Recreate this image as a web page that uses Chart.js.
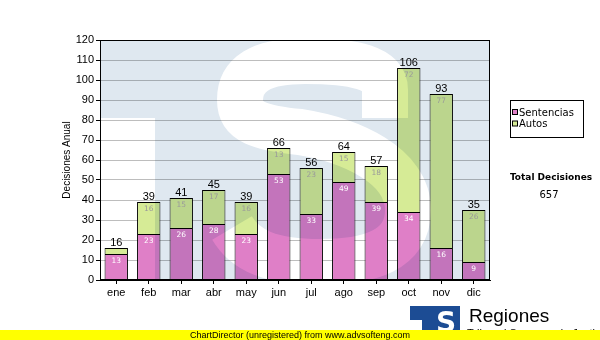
<!DOCTYPE html>
<html>
<head>
<meta charset="utf-8">
<script src="https://cdn.jsdelivr.net/npm/chart.js@4.4.0/dist/chart.umd.min.js"></script>
<style>
  html, body { margin: 0; padding: 0; background: #fff; }
  #wrap { width: 600px; height: 340px; position: relative; }
</style>
</head>
<body>
<div id="wrap"><canvas id="chart" width="600" height="340"></canvas></div>
<script>
// decisiones por mes
const months = ['ene', 'feb', 'mar', 'abr', 'may', 'jun', 'jul', 'ago', 'sep', 'oct', 'nov', 'dic'];
const sentencias = [13, 23, 26, 28, 23, 53, 33, 49, 39, 34, 16, 9];
const autos = [3, 16, 15, 17, 16, 13, 23, 15, 18, 72, 77, 26];
const seriesNames = ['Sentencias', 'Autos'];
const seriesColors = ['#df7fc7', '#d6eb96'];

const ARIAL = '"Liberation Sans", Arial, sans-serif';
const SANS = '"DejaVu Sans", Verdana, sans-serif';
const LOGO_BLUE = '#dfe8f0';

// logo de fondo (T + S) en un canvas aparte; luego se mezcla con multiply
function buildWatermark(a) {
    const c = document.createElement('canvas');
    c.width = 600;
    c.height = 340;
    const g = c.getContext('2d');
    g.fillStyle = '#fff';
    g.fillRect(0, 0, 600, 340);
    g.fillStyle = LOGO_BLUE;
    g.fillRect(a.left, a.top, a.right - a.left, a.bottom - a.top);
    g.fillStyle = '#fff';
    g.fillRect(a.left, 118, 55, a.bottom - 118);

    // la S
    g.strokeStyle = '#fff';
    g.lineWidth = 46;
    g.lineCap = 'butt';
    g.lineJoin = 'round';
    g.beginPath();
    g.moveTo(385, 118);
    g.lineTo(385, 90);
    g.bezierCurveTo(385, 68, 355, 61, 305, 61);
    g.bezierCurveTo(260, 61, 240, 75, 240, 100);
    g.bezierCurveTo(240, 122, 260, 128, 300, 132);
    g.bezierCurveTo(350, 140, 408, 165, 408, 210);
    g.bezierCurveTo(408, 250, 370, 262, 320, 262);
    g.bezierCurveTo(270, 262, 245, 250, 232, 228);
    g.stroke();
    return c;
}

const overlay = {
    id: 'overlay',
    afterDatasetsDraw(chart) {
        const ctx = chart.ctx;
        const a = chart.chartArea;

        ctx.save();
        ctx.beginPath();
        ctx.rect(a.left, a.top, a.right - a.left, a.bottom - a.top);
        ctx.clip();
        ctx.globalCompositeOperation = 'multiply';
        ctx.drawImage(buildWatermark(a), 0, 0);
        ctx.restore();

        const m0 = chart.getDatasetMeta(0);
        const m1 = chart.getDatasetMeta(1);

        ctx.save();
        // valores dentro de cada tramo
        ctx.font = '7.5px ' + SANS;
        ctx.textAlign = 'center';
        ctx.textBaseline = 'middle';
        [[m0, sentencias, '#ffffff'], [m1, autos, '#9a9a9a']].forEach(([meta, vals, col]) => {
            ctx.fillStyle = col;
            meta.data.forEach((bar, i) => {
                if (bar.base - bar.y < 12) return;
                ctx.fillText(String(vals[i]), bar.x, bar.y + 7);
            });
        });

        // total encima de la barra
        ctx.font = '11px ' + ARIAL;
        ctx.fillStyle = '#000';
        ctx.textBaseline = 'alphabetic';
        m1.data.forEach((bar, i) => {
            ctx.fillText(String(sentencias[i] + autos[i]), bar.x, bar.y - 2);
        });
        ctx.restore();
    },
    afterDraw(chart) {
        const ctx = chart.ctx;
        const a = chart.chartArea;
        ctx.save();

        // marco del area de trazado
        ctx.strokeStyle = '#000';
        ctx.lineWidth = 1;
        ctx.strokeRect(a.left + 0.5, a.top + 0.5, a.right - a.left - 1, a.bottom - a.top - 1);

        // leyenda
        ctx.fillStyle = '#fff';
        ctx.fillRect(510.5, 100.5, 73, 37);
        ctx.strokeRect(510.5, 100.5, 73, 37);
        ctx.font = '10px ' + SANS;
        ctx.textAlign = 'left';
        ctx.textBaseline = 'middle';
        seriesNames.forEach((name, i) => {
            const y = 113 + i * 11.5;
            ctx.fillStyle = seriesColors[i];
            ctx.fillRect(512.5, y - 3.5, 5, 5);
            ctx.strokeRect(512.5, y - 3.5, 5, 5);
            ctx.fillStyle = '#000';
            ctx.fillText(name, 519, y);
        });

        // total de decisiones
        const total = sentencias.reduce((s, v) => s + v, 0) + autos.reduce((s, v) => s + v, 0);
        ctx.textAlign = 'center';
        ctx.font = 'bold 9px ' + SANS;
        ctx.fillText('Total Decisiones', 551, 178);
        ctx.font = '10px ' + SANS;
        ctx.fillText(String(total), 549, 195);

        // logo inferior
        ctx.save();
        ctx.beginPath();
        ctx.rect(410, 306, 50, 26);
        ctx.clip();
        ctx.fillStyle = '#1c4c94';
        ctx.fillRect(410, 306, 50, 26);
        ctx.fillStyle = '#fff';
        ctx.fillRect(410, 320, 12, 12);
        ctx.font = 'bold 28px ' + SANS;
        ctx.textAlign = 'center';
        ctx.textBaseline = 'alphabetic';
        ctx.fillText('S', 446, 332);
        ctx.restore();

        ctx.fillStyle = '#000';
        ctx.textAlign = 'left';
        ctx.textBaseline = 'alphabetic';
        ctx.font = '19px ' + ARIAL;
        ctx.fillText('Regiones', 469, 322);
        ctx.font = '11px ' + ARIAL;
        ctx.fillText('Tribunal Supremo de Justicia', 467, 337);

        // franja amarilla
        ctx.fillStyle = '#ffff00';
        ctx.fillRect(0, 330, 600, 10);
        ctx.fillStyle = '#000';
        ctx.font = '9px ' + ARIAL;
        ctx.textAlign = 'center';
        ctx.textBaseline = 'middle';
        ctx.fillText('ChartDirector (unregistered) from www.advsofteng.com', 300, 335.5);
        ctx.restore();
    }
};

new Chart(document.getElementById('chart'), {
    type: 'bar',
    data: {
        labels: months,
        datasets: [
            { label: seriesNames[0], data: sentencias, backgroundColor: seriesColors[0], borderColor: '#000', borderWidth: 1 },
            { label: seriesNames[1], data: autos, backgroundColor: seriesColors[1], borderColor: '#000', borderWidth: 1 }
        ]
    },
    options: {
        responsive: false,
        animation: false,
        devicePixelRatio: 1,
        layout: { padding: { left: 0, top: 40, right: 110, bottom: 0 } },
        datasets: { bar: { barPercentage: 0.72, categoryPercentage: 1 } },
        plugins: { legend: { display: false }, tooltip: { enabled: false } },
        scales: {
            x: {
                stacked: true,
                afterFit: s => { s.height = 60; },
                grid: { drawOnChartArea: false, offset: false, tickLength: 4, tickColor: '#000' },
                border: { color: '#000' },
                ticks: { color: '#000', padding: 2, font: { family: ARIAL, size: 11 } }
            },
            y: {
                stacked: true,
                min: 0,
                max: 120,
                afterFit: s => { s.width = 100; },
                grid: { color: '#bdbdbd', tickLength: 4, tickColor: '#000' },
                border: { color: '#000' },
                ticks: { stepSize: 10, color: '#000', padding: 2, font: { family: ARIAL, size: 11 } },
                title: {
                    display: true,
                    text: 'Decisiones Anual',
                    color: '#000',
                    font: { family: ARIAL, size: 10 },
                    padding: { top: 61, bottom: 0 }
                }
            }
        }
    },
    plugins: [overlay]
});
</script>
</body>
</html>
